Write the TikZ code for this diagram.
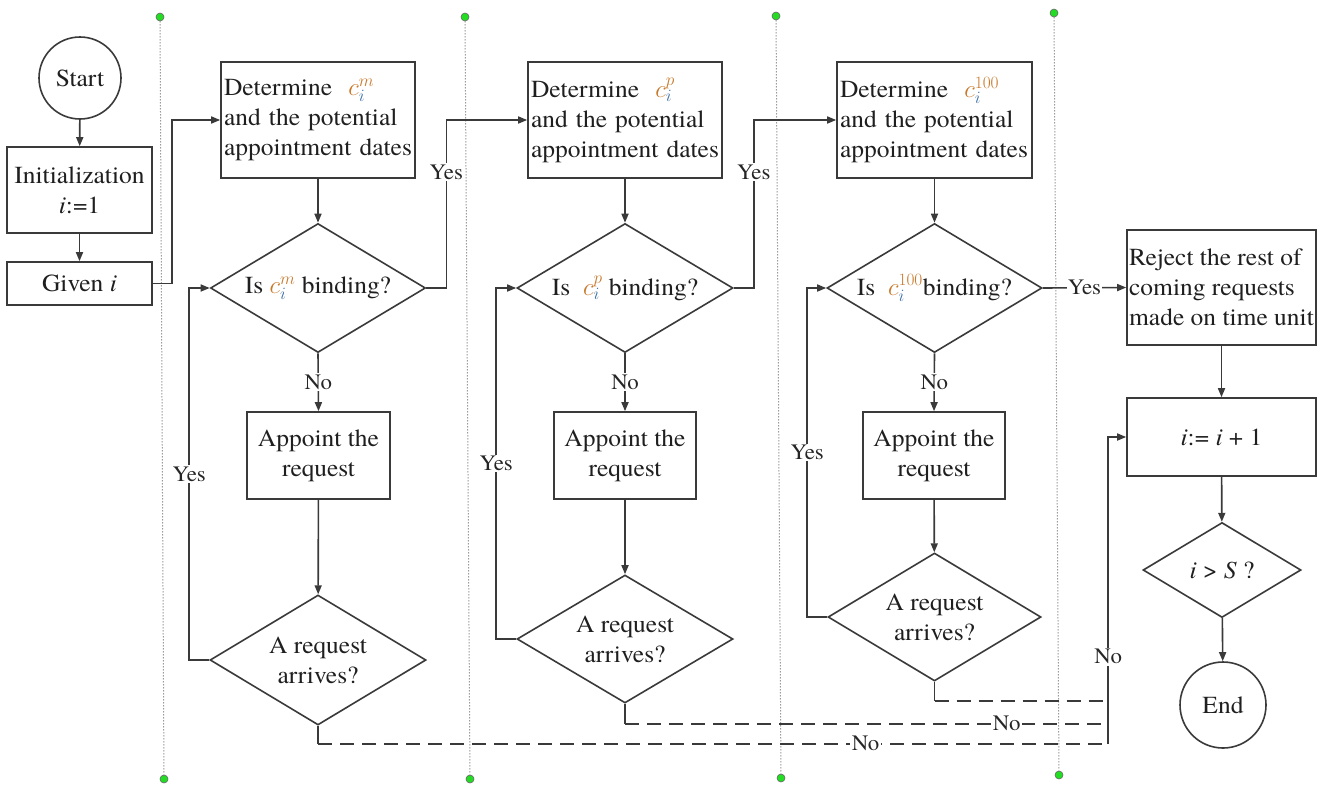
\documentclass[tikz,border=0pt]{standalone}
\usepackage{fontspec}
\setmainfont{texgyretermes}[Extension=.otf, UprightFont=*-regular, ItalicFont=*-italic, BoldFont=*-bold, BoldItalicFont=*-bolditalic, FakeStretch=1.04]
\usetikzlibrary{shapes.geometric,arrows.meta,calc}
\definecolor{corange}{HTML}{C8782A}
\definecolor{cblue}{HTML}{3D6FA8}
\definecolor{lc}{HTML}{3A3A3A}
\definecolor{gdotc}{HTML}{22DD22}
\newcommand{\cvar}[1]{$\textcolor{corange}{c}_{\textcolor{cblue}{i}}^{\textcolor{corange}{#1}}$}
\begin{document}
\begin{tikzpicture}[x=1pt,y=-1pt,line width=1.6pt,
  txt/.style={font=\fontsize{24.5}{30}\selectfont, text=black!88},
  box/.style={txt, draw=lc, rectangle, inner sep=3pt, align=center},
  lbox/.style={box, align=left},
  dia/.style={txt, draw=lc, diamond, inner sep=0pt, aspect=1.7, align=center},
  term/.style={txt, draw=lc, circle, inner sep=0pt},
  arr/.style={draw=lc, -{Triangle[length=9pt,width=7pt]}},
  ln/.style={draw=lc},
  lbl/.style={fill=white, inner sep=1.5pt, font=\fontsize{22}{24}\selectfont, text=black!85},
  dsh/.style={draw=lc, dash pattern=on 14pt off 8pt, line width=2pt},
  guide/.style={draw=gray!80!black, dotted, line width=1pt},
  gdot/.style={circle, fill=gdotc, draw=black!60, line width=0.6pt, minimum size=8pt, inner sep=0pt}]
\useasboundingbox (0,0) rectangle (1324,785);

% guide lines
\node[gdot] (g1t) at (160,17) {};  \node[gdot] (g1b) at (164,779) {};
\node[gdot] (g2t) at (465,17) {};  \node[gdot] (g2b) at (470,779) {};
\node[gdot] (g3t) at (776,16) {};  \node[gdot] (g3b) at (781,778) {};
\node[gdot] (g4t) at (1054,13) {}; \node[gdot] (g4b) at (1059,775) {};
\draw[guide] (g1t) -- (g1b);
\draw[guide] (g2t) -- (g2b);
\draw[guide] (g3t) -- (g3b);
\draw[guide] (g4t) -- (g4b);

% left column
\node[term, minimum size=82pt] (start) at (80,78) {Start};
\node[box, minimum width=145pt, minimum height=86pt] (init) at (79.5,190) {Initialization\\\textit{i}:=1};
\node[box, minimum width=145pt, minimum height=43pt] (given) at (79.5,283.5) {Given \textit{i}};

% column 1
\node[lbox, minimum width=194pt, minimum height=116pt, text width=188pt] (box1) at (318,120) {Determine\ \ \cvar{m}\\and the potential\\appointment dates};
\node[dia, minimum width=215pt, minimum height=129pt] (dia1) at (318,288) {Is \cvar{m} binding?};
\node[box, minimum width=143pt, minimum height=87pt] (app1) at (318.5,455.5) {Appoint the\\request};
\node[dia, minimum width=216pt, minimum height=130pt] (ar1) at (318,660) {A request\\arrives?};

% column 2
\node[lbox, minimum width=194pt, minimum height=116pt, text width=188pt] (box2) at (625,120) {Determine\ \ \cvar{p}\\and the potential\\appointment dates};
\node[dia, minimum width=216pt, minimum height=129pt] (dia2) at (625,288) {Is\ \ \cvar{p} binding?};
\node[box, minimum width=142pt, minimum height=87pt] (app2) at (625,455.5) {Appoint the\\request};
\node[dia, minimum width=216pt, minimum height=128pt] (ar2) at (625,639) {A request\\arrives?};

% column 3
\node[lbox, minimum width=195pt, minimum height=116pt, text width=189pt] (box3) at (934.5,120) {Determine\ \ \cvar{100}\\and the potential\\appointment dates};
\node[dia, minimum width=215pt, minimum height=129pt] (dia3) at (934.5,288) {Is\ \ \cvar{100}binding?};
\node[box, minimum width=142pt, minimum height=87pt] (app3) at (934,455.5) {Appoint the\\request};
\node[dia, minimum width=213pt, minimum height=128pt] (ar3) at (934.5,617) {A request\\arrives?};

% right column
\node[lbox, minimum width=189pt, minimum height=115pt, inner sep=2pt] (rej) at (1221.5,287.5) {Reject the rest of\\coming requests\\made on time unit};
\node[box, minimum width=189pt, minimum height=78pt] (inc) at (1221.5,437) {\textit{i}:= \textit{i} + 1};
\node[dia, minimum width=158pt, minimum height=95pt] (cmp) at (1222,570) {\textit{i} > \textit{S} ?};
\node[term, minimum size=86pt] (end) at (1223,705) {End};

% connectors left
\draw[arr] (start) -- (init);
\draw[arr] (init) -- (given);
\draw[arr] (given.east) -- ++(19,0) |- (box1.west);

% column 1 connectors
\draw[arr] (box1) -- (dia1);
\draw[arr] (dia1.south) -- node[lbl]{No} (app1.north);
\draw[arr] (app1) -- (ar1);
\draw[arr] (ar1.west) -- ++(-20,0) |- node[lbl, pos=0.25]{Yes} (dia1.west);
\draw[arr] (dia1.east) -- ++(20,0) |- node[lbl, pos=0.345]{Yes} (box2.west);

% column 2 connectors
\draw[arr] (box2) -- (dia2);
\draw[arr] (dia2.south) -- node[lbl]{No} (app2.north);
\draw[arr] (app2) -- (ar2);
\draw[arr] (ar2.west) -- ++(-20,0) |- node[lbl, pos=0.25]{Yes} (dia2.west);
\draw[arr] (dia2.east) -- ++(20,0) |- node[lbl, pos=0.345]{Yes} (box3.west);

% column 3 connectors
\draw[arr] (box3) -- (dia3);
\draw[arr] (dia3.south) -- node[lbl]{No} (app3.north);
\draw[arr] (app3) -- (ar3);
\draw[arr] (ar3.west) -- ++(-20,0) |- node[lbl, pos=0.25]{Yes} (dia3.west);
\draw[arr] (dia3.east) -- node[lbl, inner sep=1pt]{Yes} (rej.west);

% right column connectors
\draw[arr] (rej) -- (inc);
\draw[arr] (inc) -- (cmp);
\draw[arr] (cmp) -- (end);

% "No" returns
\coordinate (jn) at ($(inc.west)+(-18,0)$);
\draw[ln] (ar1.south) -- ++(0,18) coordinate (d1);
\draw[ln] (ar2.south) -- ++(0,20) coordinate (d2);
\draw[ln] (ar3.south) -- ++(0,19) coordinate (d3);
\draw[dsh] (d1) -- node[lbl, pos=0.693]{No} (d1 -| jn);
\draw[dsh] (d2) -- node[lbl, pos=0.79]{No} (d2 -| jn);
\draw[dsh] (d3) -- (d3 -| jn);
\draw[arr] (d1 -| jn) -- node[lbl, pos=0.284]{No} (jn) -- (inc.west);
\end{tikzpicture}
\end{document}
